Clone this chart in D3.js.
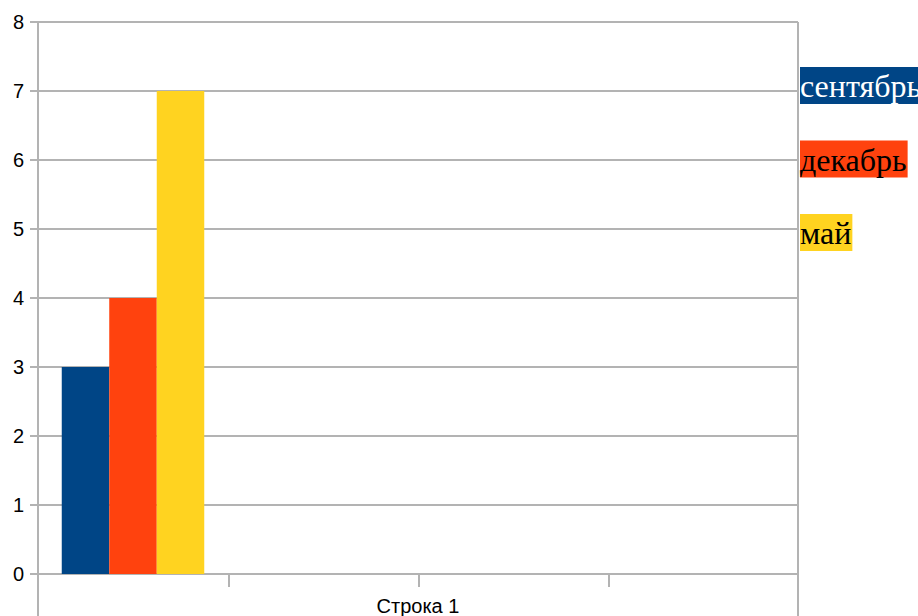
<!DOCTYPE html>
<html><head><meta charset="utf-8">
<script src="https://cdn.jsdelivr.net/npm/d3@7"></script>
<style>body{margin:0;background:#fff}svg{display:block}</style>
</head><body>
<svg id="c" width="918" height="616"></svg>
<script>
const categories = ["Строка 1"];
const series = ["сентябрь", "декабрь", "май"];
const values = [[3, 4, 7]];
const colors = ["#004586", "#ff420e", "#ffd320"];
const legendText = ["#ffffff", "#000000", "#000000"];
const yTicks = [0, 1, 2, 3, 4, 5, 6, 7, 8];
const slots = [0, 1, 2, 3];

const svg = d3.select("#c");
const L = 38, R = 798, T = 22, B = 574;
const y = d3.scaleLinear().domain([0, 8]).range([B, T]);
const xs = d3.scaleBand().domain(slots).range([L, R]);
const x1 = d3.scaleBand().domain(series).range([0, xs.bandwidth()]).paddingInner(0).paddingOuter(0.5);
const grid = "#b3b3b3";

svg.append("g").selectAll("line").data(yTicks).join("line")
  .attr("x1", L - 8).attr("x2", R).attr("y1", d => y(d)).attr("y2", d => y(d))
  .attr("stroke", grid).attr("stroke-width", 2);

categories.forEach((c, ci) => {
  svg.append("g").selectAll("rect").data(series).join("rect")
    .attr("x", s => xs(slots[ci]) + x1(s)).attr("width", x1.bandwidth())
    .attr("y", (s, i) => y(values[ci][i])).attr("height", (s, i) => B - y(values[ci][i]))
    .attr("fill", (s, i) => colors[i]);
});

svg.append("g").selectAll("line").data([L, R]).join("line")
  .attr("x1", d => d).attr("x2", d => d).attr("y1", T).attr("y2", 616)
  .attr("stroke", grid).attr("stroke-width", 2);

svg.append("g").selectAll("line").data(slots.slice(1)).join("line")
  .attr("x1", d => xs(d) + 1).attr("x2", d => xs(d) + 1).attr("y1", B).attr("y2", B + 13)
  .attr("stroke", grid).attr("stroke-width", 2);

svg.append("g").selectAll("text").data(yTicks).join("text")
  .attr("x", 24).attr("y", d => y(d)).attr("dy", "0.36em").attr("text-anchor", "end")
  .attr("font-family", "Liberation Sans, Arial, sans-serif").attr("font-size", 20).attr("fill", "#000")
  .text(d => d);

svg.append("text").attr("x", 418).attr("y", 613).attr("text-anchor", "middle")
  .attr("font-family", "Liberation Sans, Arial, sans-serif").attr("font-size", 20).attr("fill", "#000")
  .text(categories[0]);

const lg = svg.append("g").attr("font-family", "Liberation Serif, Times New Roman, serif").attr("font-size", 32);
series.forEach((s, i) => {
  const g = lg.append("g");
  const t = g.append("text").attr("x", 800).attr("y", 97 + i * 73.5).attr("fill", legendText[i]).text(s);
  const bb = t.node().getBBox();
  g.insert("rect", "text").attr("x", 800).attr("y", 67 + i * 73.5).attr("width", bb.width + 1).attr("height", 37).attr("fill", colors[i]);
});
</script>
</body></html>
